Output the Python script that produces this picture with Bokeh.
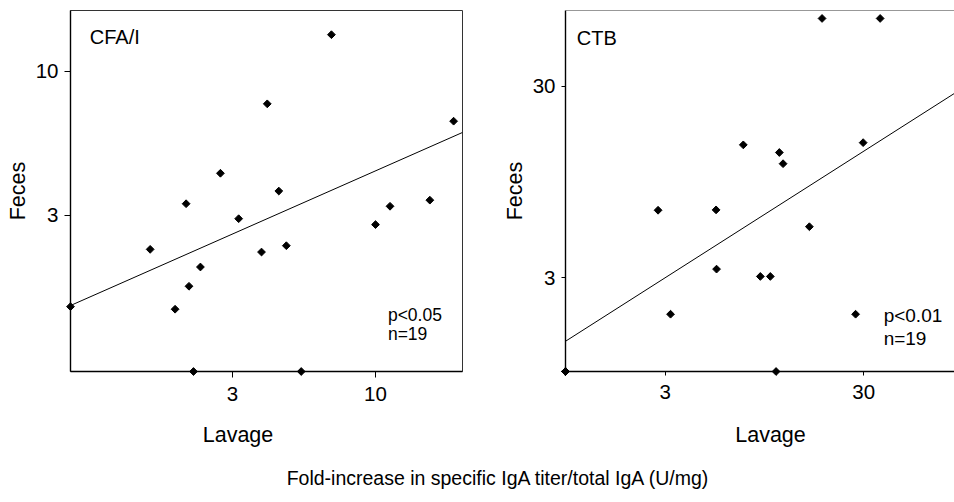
import numpy as np
from bokeh.plotting import figure
from bokeh.layouts import column, row
from bokeh.models import Range1d, FixedTicker, Label, Span
from bokeh.embed import file_html
from bokeh.resources import INLINE

# ---------------- data ----------------
cfa_lavage = [0.767, 1.50, 1.85, 2.03, 2.08, 2.16, 2.29, 2.71, 3.16, 3.83,
              4.02, 4.43, 4.72, 5.35, 6.90, 10.0, 11.3, 15.8, 19.3]
cfa_feces = [1.40, 2.26, 1.37, 3.31, 1.66, 0.814, 1.95, 4.27, 2.92, 2.21,
             7.63, 3.68, 2.33, 0.814, 13.6, 2.78, 3.24, 3.41, 6.60]
cfa_fit_x = [0.767, 20.8]
cfa_fit_y = [1.413, 6.006]

ctb_lavage = [0.943, 0.943, 0.943, 0.943, 2.76, 3.19, 5.41, 5.44, 7.42, 9.04,
              10.15, 10.85, 11.27, 11.77, 15.97, 18.5, 27.3, 29.8, 36.3]
ctb_feces = [0.969, 0.969, 0.969, 0.969, 6.74, 1.93, 6.77, 3.32, 14.8, 3.04,
             3.04, 0.969, 13.5, 11.8, 5.53, 67.7, 1.93, 15.2, 67.7]
ctb_fit_x = [0.943, 86.0]
ctb_fit_y = [1.394, 27.5]

cfa_ticks = [3, 10]
ctb_ticks = [3, 30]

FONT = "Liberation Sans"


def panel(width, height, xr, yr, ticks, mb, tick_out):
    p = figure(width=width, height=height, x_axis_type="log", y_axis_type="log",
               x_range=Range1d(*xr), y_range=Range1d(*yr),
               output_backend="svg", toolbar_location=None,
               min_border_left=mb[0], min_border_right=mb[1],
               min_border_top=mb[2], min_border_bottom=mb[3])
    p.xgrid.visible = False
    p.ygrid.visible = False
    p.outline_line_color = "#333333"
    p.outline_line_width = 1
    p.background_fill_color = "white"
    p.border_fill_color = "white"
    for ax in (p.xaxis[0], p.yaxis[0]):
        ax.ticker = FixedTicker(ticks=ticks, minor_ticks=[])
        ax.major_label_overrides = {t: str(t) for t in ticks}
        ax.axis_line_color = "black"
        ax.axis_line_width = 1.4
        ax.major_tick_line_color = "black"
        ax.major_tick_out = tick_out
        ax.major_tick_in = 0
        ax.minor_tick_out = 0
        ax.minor_tick_in = 0
        ax.major_label_text_font = FONT
        ax.major_label_text_font_size = "20.5px"
        ax.major_label_text_color = "black"
    p.xaxis.major_label_standoff = 9
    p.yaxis.major_label_standoff = 6
    yax = p.yaxis[0]
    yax.axis_label = "Feces"
    yax.axis_label_text_font = FONT
    yax.axis_label_text_font_size = "21.5px"
    yax.axis_label_text_font_style = "normal"
    yax.axis_label_text_color = "black"
    yax.axis_label_standoff = 3
    return p


p1 = panel(488, 415, (0.767, 20.8), (0.814, 16.65), cfa_ticks, (70, 26, 10, 44), 6)
p1.line(cfa_fit_x, cfa_fit_y, line_color="black", line_width=1)
r1 = p1.scatter(cfa_lavage, cfa_feces, marker="square", size=5.5, angle=np.pi / 4,
                fill_color="black", line_color="black")
r1.level = "overlay"
p1.add_layout(Label(x=0.902, y=12.19, text="CFA/I", text_font=FONT,
                    text_font_size="20px", text_color="black"))
p1.add_layout(Label(x=11.1, y=1.196, text="p<0.05", text_font=FONT,
                    text_font_size="17.5px", text_color="black"))
p1.add_layout(Label(x=11.1, y=1.026, text="n=19", text_font=FONT,
                    text_font_size="17.5px", text_color="black"))

p2 = panel(466, 415, (0.943, 86.0), (0.969, 74.5), ctb_ticks, (77, 0, 10, 42), 4)
p2.outline_line_color = None
p2.add_layout(Span(location=74.5, dimension="width", line_color="#333333", line_width=1))
p2.line(ctb_fit_x, ctb_fit_y, line_color="black", line_width=1)
r2 = p2.scatter(ctb_lavage, ctb_feces, marker="square", size=5.5, angle=np.pi / 4,
                fill_color="black", line_color="black")
r2.level = "overlay"
p2.add_layout(Label(x=1.076, y=47.1, text="CTB", text_font=FONT,
                    text_font_size="20px", text_color="black"))
p2.add_layout(Label(x=37.8, y=1.668, text="p<0.01", text_font=FONT,
                    text_font_size="19px", text_color="black"))
p2.add_layout(Label(x=37.8, y=1.263, text="n=19", text_font=FONT,
                    text_font_size="19px", text_color="black"))

# bottom strip: x-axis titles and the shared caption
p3 = figure(width=954, height=85, x_range=Range1d(0, 954), y_range=Range1d(0, 85),
            output_backend="svg", toolbar_location=None,
            min_border_left=0, min_border_right=0, min_border_top=0, min_border_bottom=0)
p3.axis.visible = False
p3.xgrid.visible = False
p3.ygrid.visible = False
p3.outline_line_color = None
for cx in (237.5, 770):
    p3.add_layout(Label(x=cx, y=66, text="Lavage", text_font=FONT,
                        text_font_size="21.5px", text_align="center",
                        text_baseline="alphabetic", text_color="black"))
p3.add_layout(Label(x=498, y=23, text="Fold-increase in specific IgA titer/total IgA (U/mg)",
                    text_font=FONT, text_font_size="19.5px", text_align="center",
                    text_baseline="alphabetic", text_color="black"))

layout = column(row(p1, p2), p3)
open("out.html", "w").write(file_html(layout, INLINE))
